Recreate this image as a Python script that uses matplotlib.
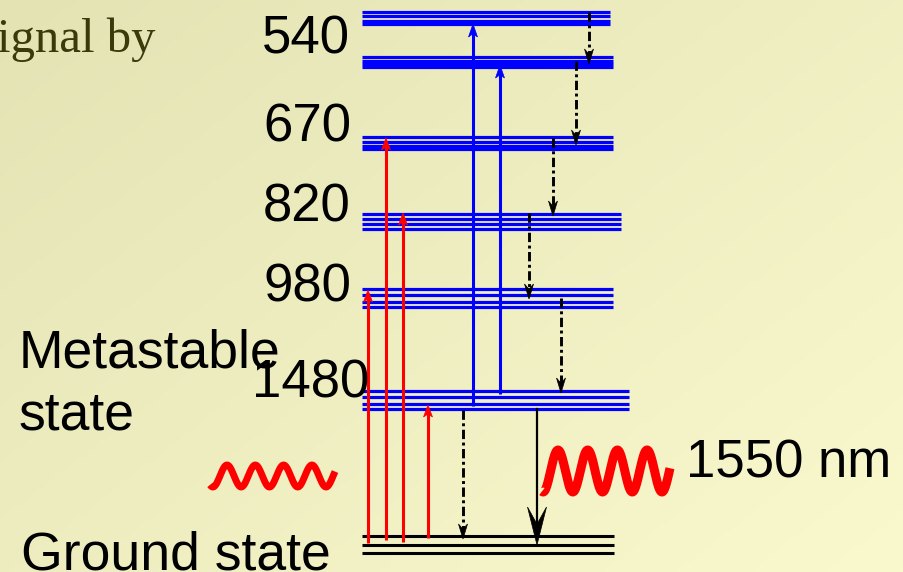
import numpy as np
import matplotlib
matplotlib.use("Agg")
import matplotlib.pyplot as plt
from matplotlib.patches import Polygon

# ---------------- data (diagram units = pixel-like, y downward) ----------------
band_labels = ['540', '670', '820', '980', '1480']
band_label_x = [350, 351, 351, 351, 369]          # right edge of label
band_label_y = [53, 142, 222, 302, 397]            # baseline

band_lines = [[12, 16, 21, 24],
              [57, 61, 64, 67],
              [137, 142, 146, 149],
              [214, 219, 224, 229],
              [289, 295, 302, 307],
              [391, 397, 404, 409]]
band_left = 362
band_right = [610, 613, 613, 621, 613, 629]

ground_lines = [536, 545, 553]
ground_right = 614

pump_x = [368, 386, 403, 428]
pump_from = [543, 540, 542, 538]
pump_to = [290, 138, 213, 405]

esa_x = [473, 500]
esa_from = [406, 394]
esa_to = [24, 65]

nr_x = [589, 576, 553, 529, 561, 463]
nr_from = [12, 61, 138, 213, 298, 410]
nr_to = [64, 145, 216, 299, 393, 539]

em_x = 537
em_from = 409
em_to = 545

# ---------------- figure ----------------
W, H = 904, 572
fig = plt.figure(figsize=(W / 100, H / 100), dpi=100)
ax = fig.add_axes([0, 0, 1, 1])
ax.set_xlim(0, W)
ax.set_ylim(H, 0)
ax.axis('off')

# background gradient (top-left olive -> bottom-right light yellow)
gx, gy = np.meshgrid(np.linspace(0, 1, 200), np.linspace(0, 1, 130))
t = np.clip((gx * 0.55 + gy * 0.45), 0, 1)[..., None]
c0 = np.array([228, 227, 180]) / 255
c1 = np.array([250, 249, 206]) / 255
img = c0 * (1 - t) + c1 * t
ax.imshow(img, extent=[0, W, H, 0], aspect='auto', zorder=0)

# energy bands
for lines, xr in zip(band_lines, band_right):
    for y in lines:
        ax.plot([band_left, xr], [y, y], color='#0000ff', lw=2.3,
                solid_capstyle='butt', zorder=2)
for y in ground_lines:
    ax.plot([band_left, ground_right], [y, y], color='black', lw=2.2,
            solid_capstyle='butt', zorder=2)


def head(x, ytip, direction, L, Wd, color, z=4, notch=0.25):
    # direction: -1 for up (tip at smaller y), +1 for down
    yb = ytip - direction * L
    yn = ytip - direction * L * (1 - notch)
    ax.add_patch(Polygon([(x, ytip), (x - Wd, yb), (x, yn), (x + Wd, yb)],
                         closed=True, facecolor=color, edgecolor=color,
                         lw=0.5, zorder=z))


# pump arrows (red)
for x, y0, y1 in zip(pump_x, pump_from, pump_to):
    ax.plot([x, x], [y0, y1 + 8], color='#ff0000', lw=2.2, zorder=3,
            solid_capstyle='butt')
    head(x, y1, -1, 12, 4.5, '#ff0000')

# ESA arrows (blue)
for x, y0, y1 in zip(esa_x, esa_from, esa_to):
    ax.plot([x, x], [y0, y1 + 8], color='#0000ff', lw=2.2, zorder=3,
            solid_capstyle='butt')
    head(x, y1, -1, 13, 4.5, '#0000ff')

# non-radiative decay (dash-dot, black)
for x, y0, y1 in zip(nr_x, nr_from, nr_to):
    ax.plot([x, x], [y0, y1 - 8], color='black', lw=2.1, zorder=3,
            linestyle=(0, (3.2, 1.2, 1.0, 1.2)))
    head(x, y1, 1, 15, 4.5, 'black', notch=0.35)

# emission arrow (black)
ax.plot([em_x, em_x], [em_from, em_to - 20], color='black', lw=1.6, zorder=3)
head(em_x, em_to, 1, 38, 9.5, 'black', notch=0.45)

# waves
xs = np.linspace(210, 335, 400)
ax.plot(xs, 476 - 11 * np.cos(2 * np.pi * (xs - 227) / 28.3), color='#ff0000',
        lw=5, solid_capstyle='butt', zorder=3)
xs = np.linspace(542, 670, 400)
ax.plot(xs, 471 - 21 * np.cos(2 * np.pi * (xs - 558) / 29.7), color='#ff0000',
        lw=6.5, solid_capstyle='butt', zorder=3)

# text
sans = ['Liberation Sans', 'DejaVu Sans']
fs = 38
for lab, x, y in zip(band_labels, band_label_x, band_label_y):
    ax.text(x, y, lab, ha='right', va='baseline', fontsize=fs, family=sans,
            color='black', zorder=5)
ax.text(19, 367, 'Metastable', ha='left', va='baseline', fontsize=fs + 0.5,
        family=sans, zorder=5)
ax.text(19, 429, 'state', ha='left', va='baseline', fontsize=fs + 0.5,
        family=sans, zorder=5)
ax.text(21, 570, 'Ground state', ha='left', va='baseline', fontsize=fs + 0.5,
        family=sans, zorder=5)
ax.text(686, 477, '1550 nm', ha='left', va='baseline', fontsize=fs,
        family=sans, zorder=5)
ax.text(-3, 52, 'ignal by', ha='left', va='baseline', fontsize=35,
        family=['Liberation Serif', 'DejaVu Serif'], color='#3a3a0a', zorder=5)

fig.savefig('out.png', dpi=100)
